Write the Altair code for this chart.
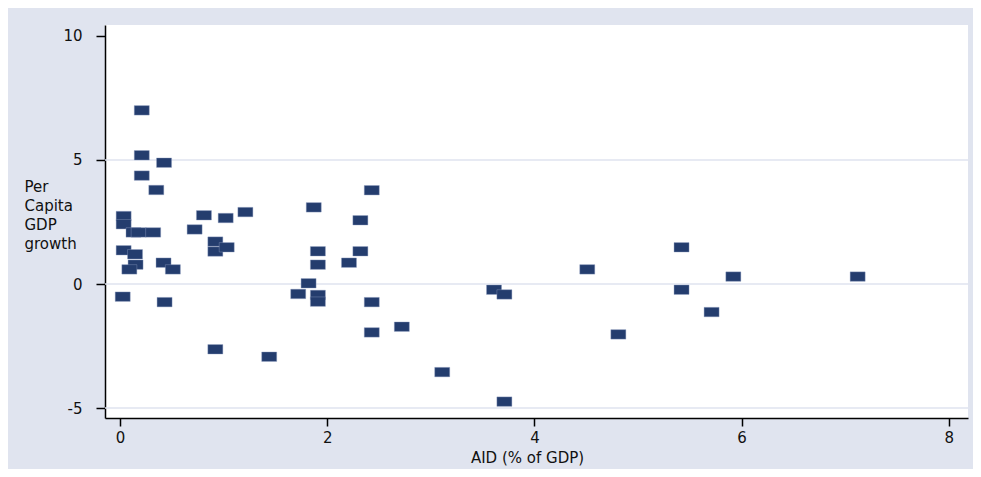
import altair as alt
import pandas as pd

aid = [0.21, 0.21, 0.21, 0.425, 0.35, 0.035, 0.035, 0.81, 1.02, 1.21,
       0.13, 0.18, 0.32, 0.72, 0.92, 0.92, 1.03, 0.035, 0.145, 0.15,
       0.09, 0.42, 0.51, 0.026, 0.43, 0.92, 1.44, 1.72, 1.82, 1.91,
       1.91, 1.91, 1.91, 2.43, 1.87, 2.32, 2.32, 2.21, 4.51, 3.61,
       3.71, 2.43, 2.43, 2.72, 4.81, 3.11, 3.71, 5.42, 5.42, 5.92,
       7.12, 5.71]
growth = [7.0, 5.19, 4.37, 4.89, 3.79, 2.74, 2.41, 2.77, 2.66, 2.9,
          2.08, 2.08, 2.08, 2.2, 1.71, 1.31, 1.48, 1.36, 1.2, 0.78,
          0.59, 0.86, 0.59, -0.51, -0.73, -2.63, -2.93, -0.4, 0.03, -0.44,
          -0.71, 1.32, 0.78, 3.78, 3.09, 2.57, 1.32, 0.86, 0.59, -0.23,
          -0.42, -0.73, -1.95, -1.72, -2.03, -3.55, -4.74, 1.48, -0.23, 0.3,
          0.3, -1.13]
x_ticks = [0, 2, 4, 6, 8]
y_ticks = [-5, 0, 5, 10]
grid_lines = [-5, 0, 5]

df = pd.DataFrame({"aid": aid, "growth": growth})
grid_df = pd.DataFrame({"growth": grid_lines})

FONT = "DejaVu Sans"
xscale = alt.Scale(domain=[-0.145, 8.185], nice=False, zero=False)
yscale = alt.Scale(domain=[-5.4, 10.44], nice=False, zero=False)

x_axis = alt.Axis(
    values=x_ticks, title="AID (% of GDP)", grid=False,
    domainColor="#000000", domainWidth=1.5, tickColor="#000000",
    tickWidth=1.5, tickSize=8, labelPadding=4, labelFontSize=15,
    labelFont=FONT, labelColor="#111111", titleFont=FONT,
    titleFontSize=15, titleFontWeight="normal", titleColor="#111111",
    titleX=422, titleY=44, titleBaseline="alphabetic", titleAnchor="start",
    titleAlign="center")
y_axis = alt.Axis(
    values=y_ticks, title=["Per", "Capita", "GDP", "growth"], grid=False,
    labelExpr="datum.value + ''",
    domainColor="#000000", domainWidth=1.5, tickColor="#000000",
    tickWidth=1.5, tickSize=9, labelPadding=14, labelFontSize=15,
    labelFont=FONT, labelColor="#111111", titleFont=FONT,
    titleFontSize=15, titleFontWeight="normal", titleColor="#111111",
    titleAngle=0, titleAlign="left", titleBaseline="middle",
    titleX=-81, titleY=161, titleLineHeight=19)

grid = alt.Chart(grid_df).mark_rule(color="#dfe3ef", strokeWidth=1.5).encode(
    y=alt.Y("growth:Q", scale=yscale, axis=y_axis)
)

rect_shape = "M-1,-0.63L1,-0.63L1,0.63L-1,0.63Z"
points = alt.Chart(df).mark_point(
    shape=rect_shape, size=225, filled=True, color="#243d6e", opacity=1,
    stroke="#8e9cc0", strokeWidth=0.4
).encode(
    x=alt.X("aid:Q", scale=xscale, axis=x_axis),
    y=alt.Y("growth:Q", scale=yscale, axis=y_axis),
)

chart = alt.layer(grid, points).properties(
    width=863, height=393,
    autosize=alt.AutoSizeParams(type="none"),
    padding={"left": 97, "top": 17, "right": 5, "bottom": 51},
    background="#e0e4ef",
).configure_view(fill="#ffffff", stroke=None)

chart.save("out.html", embed_options={"renderer": "svg", "actions": False})
